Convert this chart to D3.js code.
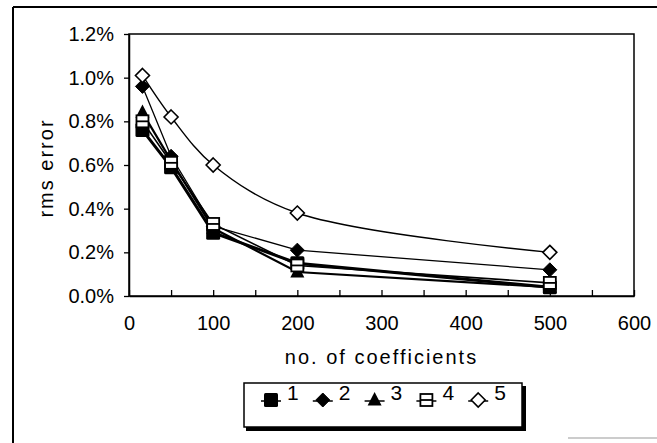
<!DOCTYPE html>
<html>
<head>
<meta charset="utf-8">
<script src="https://cdn.jsdelivr.net/npm/d3@7"></script>
<style>
  body { margin: 0; background: #fff; }
  svg { font-family: "Liberation Sans", Arial, sans-serif; }
</style>
</head>
<body>
<div id="chart"></div>
<script>
// data (rms error in %)
const coefficients = [16, 50, 100, 200, 500];
const seriesNames = ["1", "2", "3", "4", "5"];
const s1 = [0.76, 0.59, 0.29, 0.15, 0.04];
const s2 = [0.96, 0.64, 0.32, 0.21, 0.12];
const s3 = [0.84, 0.62, 0.31, 0.11, 0.04];
const s4 = [0.80, 0.61, 0.33, 0.14, 0.06];
const s5 = [1.01, 0.82, 0.60, 0.38, 0.20];
const xTicks = [0, 100, 200, 300, 400, 500, 600];
const xMinorTicks = [50, 150, 250, 350, 450, 550];
const yTicks = [0, 0.2, 0.4, 0.6, 0.8, 1.0, 1.2];

const series = [
  { name: seriesNames[0], values: s1, shape: "square" },
  { name: seriesNames[1], values: s2, shape: "diamond" },
  { name: seriesNames[2], values: s3, shape: "triangle" },
  { name: seriesNames[3], values: s4, shape: "boxline" },
  { name: seriesNames[4], values: s5, shape: "opendiamond" }
];

const W = 657, H = 443;
const margin = { top: 34, left: 129, right: 23, bottom: 147 };
const width = W - margin.left - margin.right;
const height = H - margin.top - margin.bottom;

const svg = d3.select("#chart").append("svg")
  .attr("width", W).attr("height", H);

// outer frame (cropped at right and bottom)
svg.append("line").attr("x1", 13).attr("x2", 13).attr("y1", 7).attr("y2", H)
  .attr("stroke", "#000").attr("stroke-width", 2);
svg.append("line").attr("x1", 13).attr("x2", W).attr("y1", 7).attr("y2", 7)
  .attr("stroke", "#000").attr("stroke-width", 2);
svg.append("line").attr("x1", 568).attr("x2", W).attr("y1", 438).attr("y2", 438)
  .attr("stroke", "#999").attr("stroke-width", 1);

const x = d3.scaleLinear().domain([0, 600]).range([0, width]);
const y = d3.scaleLinear().domain([0, 1.2]).range([height, 0]);

const g = svg.append("g")
  .attr("transform", `translate(${margin.left},${margin.top})`);

// plot area border
g.append("rect").attr("width", width).attr("height", height)
  .attr("fill", "none").attr("stroke", "#000").attr("stroke-width", 1.5);

// axes
g.append("g")
  .attr("transform", `translate(0,${height})`)
  .call(d3.axisBottom(x).tickValues(xMinorTicks).tickSize(-6).tickSizeOuter(0).tickFormat(""))
  .call(a => a.select(".domain").remove());
const xAxis = g.append("g")
  .attr("transform", `translate(0,${height})`)
  .call(d3.axisBottom(x).tickValues(xTicks).tickSize(-6).tickSizeOuter(0).tickPadding(20));
const yAxis = g.append("g")
  .call(d3.axisLeft(y).tickValues(yTicks).tickSize(5).tickSizeOuter(0)
    .tickFormat(d => d.toFixed(1) + "%").tickPadding(10));
g.selectAll(".tick line").attr("stroke", "#000").attr("stroke-width", 1.3);
[xAxis, yAxis].forEach(a => {
  a.select(".domain").attr("stroke", "#000").attr("stroke-width", 1.5);
  a.selectAll("text").attr("font-size", 20).attr("fill", "#000")
    .attr("font-family", "Liberation Sans, Arial, sans-serif");
});

// axis titles
svg.append("text")
  .attr("x", margin.left + x(300)).attr("y", 364)
  .attr("text-anchor", "middle").attr("font-size", 20)
  .attr("letter-spacing", 2)
  .text("no. of coefficients");
svg.append("text")
  .attr("transform", `translate(53,168) rotate(-90)`)
  .attr("text-anchor", "middle").attr("font-size", 20)
  .attr("letter-spacing", 2)
  .text("rms error");

const smooth = d3.line()
  .x((d, i) => x(coefficients[i]))
  .y(d => y(d))
  .curve(d3.curveCatmullRom.alpha(0.5));
const straight = d3.line()
  .x((d, i) => x(coefficients[i]))
  .y(d => y(d));

function drawMarker(sel, shape) {
  if (shape === "square") {
    sel.append("rect").attr("x", -7).attr("y", -7).attr("width", 14).attr("height", 14)
      .attr("rx", 1.5).attr("fill", "#000");
  } else if (shape === "diamond") {
    sel.append("path").attr("d", "M0,-7L7,0L0,7L-7,0Z")
      .attr("fill", "#000").attr("stroke", "#000");
  } else if (shape === "triangle") {
    sel.append("path").attr("d", "M0,-8L7,5.5L-7,5.5Z").attr("fill", "#000");
  } else if (shape === "boxline") {
    sel.append("rect").attr("x", -6).attr("y", -6).attr("width", 12).attr("height", 12)
      .attr("fill", "#fff").attr("stroke", "#000").attr("stroke-width", 1.8);
    sel.append("line").attr("x1", -6).attr("x2", 6).attr("y1", 0).attr("y2", 0)
      .attr("stroke", "#000").attr("stroke-width", 1.8);
  } else {
    sel.append("path").attr("d", "M0,-7L7,0L0,7L-7,0Z")
      .attr("fill", "#fff").attr("stroke", "#000").attr("stroke-width", 1.6);
  }
}

const widths = { square: 3, diamond: 1.3, triangle: 2.2, boxline: 1.6, opendiamond: 1.4 };

series.forEach(s => {
  g.append("path").datum(s.values)
    .attr("d", s.shape === "opendiamond" ? smooth : straight).attr("fill", "none")
    .attr("stroke", "#000").attr("stroke-width", widths[s.shape]);
});
series.forEach(s => {
  g.selectAll(null).data(s.values).enter().append("g")
    .attr("transform", (d, i) => `translate(${x(coefficients[i])},${y(d)})`)
    .each(function () { drawMarker(d3.select(this), s.shape); });
});

// legend
const legend = svg.append("g").attr("transform", "translate(244,383)");
legend.append("rect").attr("x", 2).attr("y", 3).attr("width", 280).attr("height", 45)
  .attr("fill", "#000");
legend.append("rect").attr("width", 278).attr("height", 44)
  .attr("fill", "#fff").attr("stroke", "#000").attr("stroke-width", 1.5);
const item = legend.selectAll(".item").data(series).enter().append("g")
  .attr("transform", (d, i) => `translate(${27 + i * 51.8},0)`);
item.append("line").attr("x1", -10).attr("x2", 10).attr("y1", 18).attr("y2", 18)
  .attr("stroke", "#000").attr("stroke-width", 1.5);
item.each(function (d) {
  const m = d3.select(this).append("g").attr("transform", "translate(0,17)");
  drawMarker(m, d.shape);
});
item.append("text").attr("x", 16).attr("y", 17).attr("font-size", 21)
  .text(d => d.name);
</script>
</body>
</html>
